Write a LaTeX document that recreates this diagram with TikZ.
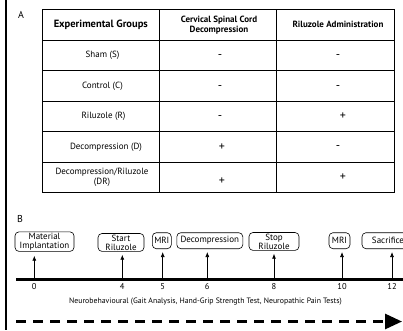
\documentclass[tikz,border=0pt]{standalone}
\usepackage{fontspec}
\setmainfont{PT Sans}
\usetikzlibrary{arrows.meta}
\begin{document}
\begin{tikzpicture}[x=1pt,y=-1pt,
  hdr/.style={font=\bfseries\fontsize{9}{10}\selectfont,align=center,inner sep=0pt},
  cell/.style={font=\fontsize{9}{10.5}\selectfont,align=center,inner sep=0pt},
  sgn/.style={font=\fontsize{12}{12}\selectfont,inner sep=0pt},
  evt/.style={draw,rounded corners=4pt,line width=0.6pt,font=\fontsize{9}{9}\selectfont,align=center,inner sep=1.2pt,anchor=south},
  tick/.style={font=\fontsize{8.5}{9}\selectfont,inner sep=0pt},
  uparrow/.style={line width=0.7pt,-{Latex[length=5pt,width=4pt]}},
  grid/.style={line width=0.6pt}]
\useasboundingbox (0,0) rectangle (403,330);
\draw[line width=1.2pt] (6,0) -- (6,330);
% Panel A
\node[font=\fontsize{10}{11}\selectfont] (la) at (21,15) {A};
\draw[grid] (42.3,9.3) rectangle (394.3,192.7);
\foreach \yy in {40.7,70.7,101,131.7,162.3} \draw[grid] (42.3,\yy) -- (394.3,\yy);
\foreach \xx in {159.3,276.7} \draw[grid] (\xx,9.3) -- (\xx,192.7);
\node[hdr,font=\bfseries\fontsize{10.5}{11}\selectfont] (h1) at (100.8,25) {Experimental Groups};
\node[hdr] (h2) at (219,25) {Cervical Spinal Cord\\Decompression};
\node[hdr] (h3) at (338,24.5) {Riluzole Administration};
\node[cell] (g1) at (102.5,55.7) {Sham (S)};
\node[cell] (g2) at (102.5,86) {Control (C)};
\node[cell] (g3) at (103.5,116.3) {Riluzole (R)};
\node[cell] (g4) at (106,147) {Decompression (D)};
\node[cell] (g5) at (102,177.5) {Decompression/Riluzole\\(DR)};
\node[sgn] (a1) at (220,57) {-};
\node[sgn] (a2) at (220,87.5) {-};
\node[sgn] (a3) at (220,118) {-};
\node[sgn] (a4) at (222,147) {+};
\node[sgn] (a5) at (222,181) {+};
\node[sgn] (b1) at (338,57) {-};
\node[sgn] (b2) at (338,87.5) {-};
\node[sgn] (b3) at (343,116.3) {+};
\node[sgn] (b4) at (338,147.5) {-};
\node[sgn] (b5) at (343,177) {+};
% Panel B
\node[font=\fontsize{10}{11}\selectfont] (lb) at (20,219) {B};
\coordinate (axL) at (16,279.3);
\coordinate (axR) at (403,279.3);
\draw[line width=2.8pt] (axL) -- (axR);
\foreach \n/\xx/\lab in {t0/34.3/0,t4/122.3/4,t5/162.7/5,t6/207.3/6,t8/274/8,t10/342/10,t12/392/12}{
  \coordinate (\n) at (\xx,279.3);
  \node[tick] (\n l) at (\xx,286.5) {\lab};
}
\node[evt,minimum width=59pt] (e0) at (44.5,251.7) {Material\\Implantation};
\node[evt,minimum width=46pt] (e4) at (121,251.7) {Start\\Riluzole};
\node[evt,minimum width=19pt,minimum height=16pt] (e5) at (161.8,249) {MRI};
\node[evt,minimum width=66pt,minimum height=16pt] (e6) at (209.8,249) {Decompression};
\node[evt,minimum width=50pt] (e8) at (274,250.7) {Stop\\Riluzole};
\node[evt,minimum width=21pt,minimum height=16pt] (e10) at (339.5,249) {MRI};
\node[evt,minimum width=52pt,minimum height=16pt] (e12) at (388,249) {Sacrifice};
\draw[uparrow] (t0) -- ([yshift=-4pt]e0.south -| t0);
\draw[uparrow] (t4) -- ([yshift=-3pt]e4.south -| t4);
\draw[uparrow] (t5) -- ([yshift=-3pt]e5.south -| t5);
\draw[uparrow] (t6) -- ([yshift=-3pt]e6.south -| t6);
\draw[uparrow] (t8) -- ([yshift=-3pt]e8.south -| t8);
\draw[uparrow] (t10) -- ([yshift=-3pt]e10.south -| t10);
\draw[uparrow] (t12) -- ([yshift=-3pt]e12.south -| t12);
\node[font=\fontsize{7.8}{8}\selectfont,inner sep=0pt] (nb) at (205.5,301.7) {Neurobehavioural (Gait Analysis, Hand-Grip Strength Test, Neuropathic Pain Tests)};
\coordinate (dL) at (16,321.5);
\coordinate (dR) at (402,321.5);
\draw[line width=2.8pt,dash pattern=on 10pt off 7pt,-{Triangle[length=17pt,width=15pt]}] (dL) -- (dR);
\end{tikzpicture}
\end{document}
